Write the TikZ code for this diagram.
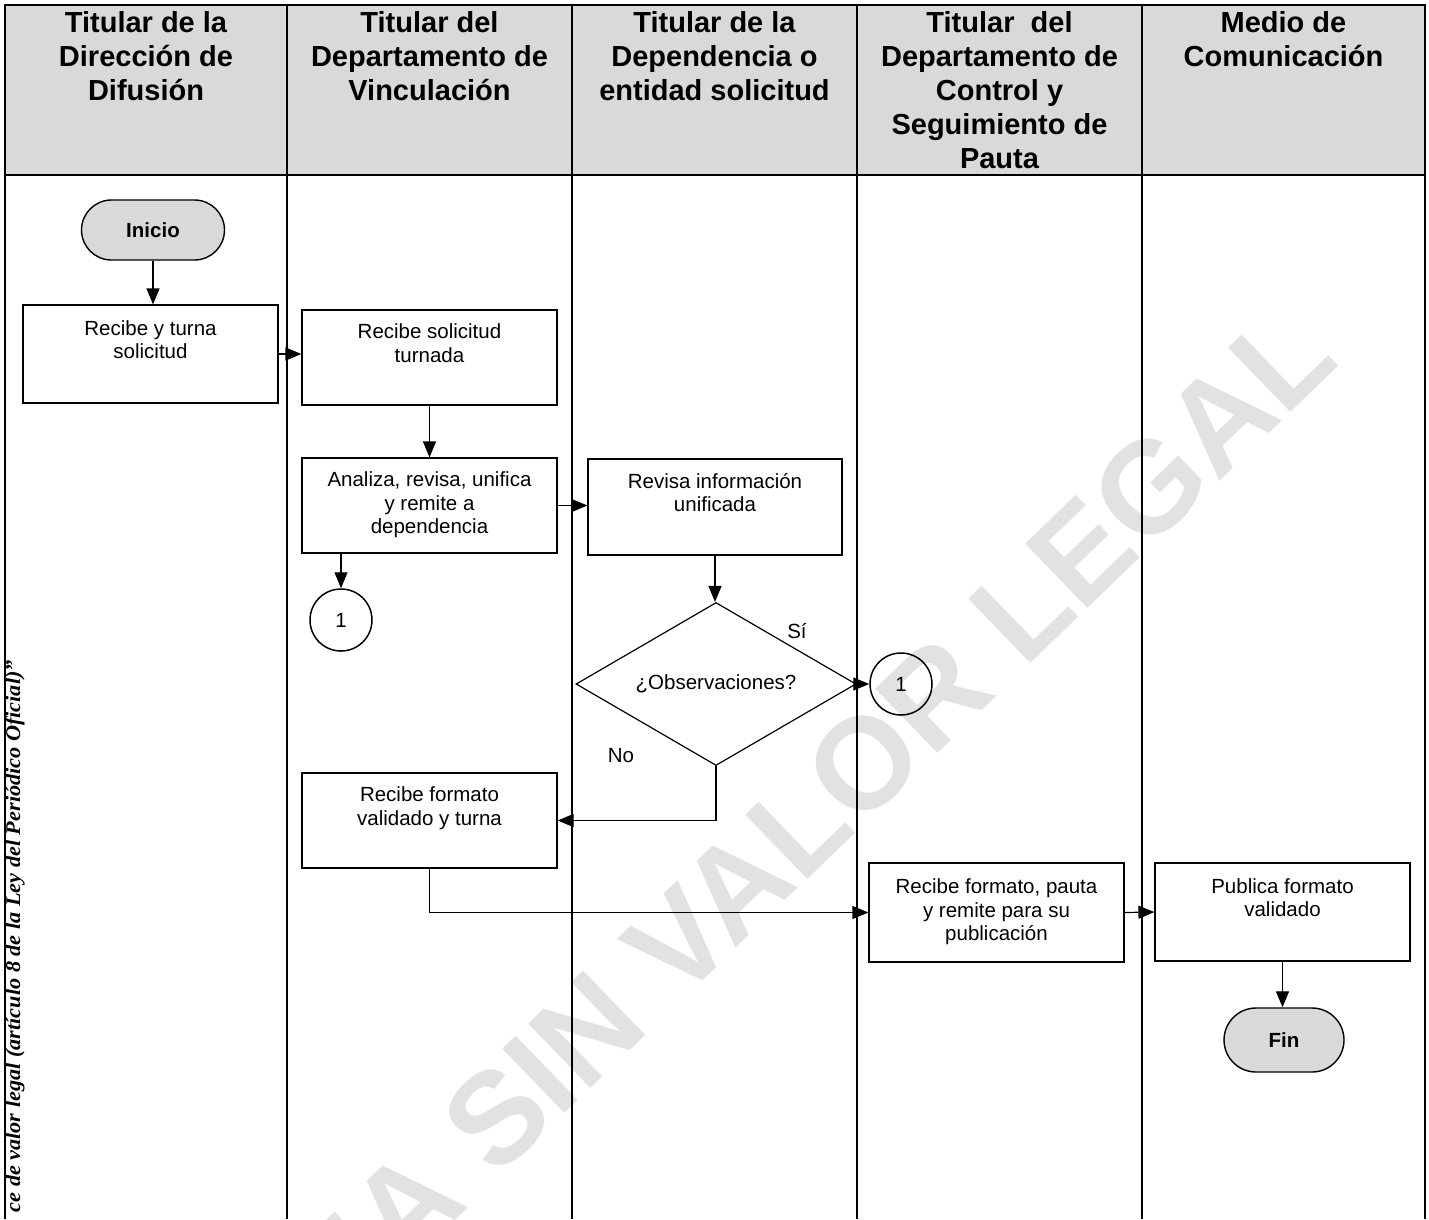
\documentclass[tikz,border=0pt]{standalone}
\usepackage{fontspec}
\setmainfont{Liberation Sans}
\newfontfamily\legalserif{Liberation Serif}
\usetikzlibrary{arrows.meta,shapes.geometric,shapes.misc}
\definecolor{hdrgray}{RGB}{217,217,217}
\definecolor{wmgray}{RGB}{226,226,226}
\newcommand\fbody{\fontsize{20.5}{23.5}\selectfont}
\newcommand\fhead{\fontsize{29}{34}\selectfont\bfseries}
\begin{document}
\begin{tikzpicture}[x=1pt,y=-1pt,
  lanes/.style={line width=2.4pt},
  stepbox/.style={draw, line width=1.2pt, minimum width=255pt, inner sep=0pt, align=center, font=\fbody},
  termnode/.style={draw, line width=1.4pt, fill=hdrgray, rounded rectangle, inner sep=0pt, font=\fbody\bfseries},
  conn/.style={draw, line width=1.5pt, circle, minimum size=62pt, inner sep=0pt, font=\fbody},
  headtxt/.style={anchor=north, align=center, inner sep=0pt, font=\fhead},
  flow/.style={line width=1.2pt, -{Triangle[length=16pt,width=13pt]}},
  lbl/.style={inner sep=0pt, font=\fbody},
]
\useasboundingbox (0,0) rectangle (1429,1219);
% watermark
\node[rotate=44, text=wmgray, inner sep=0pt, font=\fontsize{130}{130}\selectfont\bfseries] (wmark) at (727,895) {COPIA SIN VALOR LEGAL};
% header band
\fill[hdrgray] (5,5) rectangle (1425,175);
\draw[lanes] (5,1219) -- (5,5) -- (1425,5) -- (1425,1219);
\draw[lanes] (5,175) -- (1425,175);
\foreach \xx in {287,572,857,1142} \draw[lanes] (\xx,5) -- (\xx,1219);
% header texts
\node[headtxt] (h1) at (146,8) {\strut Titular de la\\Dirección de\\Difusión};
\node[headtxt] (h2) at (429.5,8) {\strut Titular del\\Departamento de\\Vinculación};
\node[headtxt] (h3) at (714.5,8) {\strut Titular de la\\Dependencia o\\entidad solicitud};
\node[headtxt] (h4) at (999.5,8) {\strut Titular\ \ del\\Departamento de\\Control y\\Seguimiento de\\Pauta};
\node[headtxt] (h5) at (1283.5,8) {\strut Medio de\\Comunicación};
% left legal note
\node[rotate=90, xscale=1.06, anchor=east, inner sep=0pt, font=\legalserif\bfseries\itshape\fontsize{21}{24}\selectfont] (legal) at (15,660) {ce de valor legal (artículo 8 de la Ley del Periódico Oficial)”};
% nodes
\node[termnode, minimum width=143pt, minimum height=60pt] (inicio) at (153,230) {Inicio};
\node[stepbox, minimum height=98pt] (b1) at (150.5,354) {\strut Recibe y turna\\solicitud\\\strut};
\node[stepbox, minimum height=95pt] (b2) at (429.5,357.5) {\strut Recibe solicitud\\turnada\\\strut};
\node[stepbox, minimum height=95pt] (b3) at (429.5,505.5) {\strut Analiza, revisa, unifica\\y remite a\\dependencia\strut};
\node[stepbox, minimum width=254pt, minimum height=96pt] (b4) at (715,507) {\strut Revisa información\\unificada\\\strut};
\node[conn] (c1) at (341,620) {1};
\node[draw, line width=1.2pt, diamond, aspect=1.72, minimum width=280pt, minimum height=163pt, inner sep=0pt, font=\fbody] (dia) at (716,684) {¿Observaciones?};
\node[conn] (c2) at (901,684) {1};
\node[lbl] (si) at (797,631) {Sí};
\node[lbl] (no) at (621,756) {No};
\node[stepbox, minimum height=95pt] (b5) at (429.5,820.5) {\strut Recibe formato\\validado y turna\\\strut};
\node[stepbox, minimum height=99pt] (b6) at (996.5,912.5) {\strut Recibe formato, pauta\\y remite para su\\publicación\strut};
\node[stepbox, minimum height=98pt] (b7) at (1282.5,912) {\strut Publica formato\\validado\\\strut};
\node[termnode, minimum width=120pt, minimum height=64pt] (fin) at (1284,1040) {Fin};
% connectors
\draw[flow] (inicio.south) -- (inicio.south |- b1.north);
\draw[flow] (b1.east) -- (b2.west |- b1.east);
\draw[flow] (b2.south) -- (b3.north);
\draw[flow] (b3.east) -- (b4.west |- b3.east);
\draw[flow] (c1.north |- b3.south) -- (c1.north);
\draw[flow] (b4.south) -- (b4.south |- dia.north);
\draw[flow] (dia.east) -- (c2.west);
\draw[flow] (dia.south) |- (b5.east);
\draw[flow] (b5.south) |- (b6.west);
\draw[flow] (b6.east) -- (b7.west);
\draw[flow] (b7.south) -- (b7.south |- fin.north);
\end{tikzpicture}
\end{document}
